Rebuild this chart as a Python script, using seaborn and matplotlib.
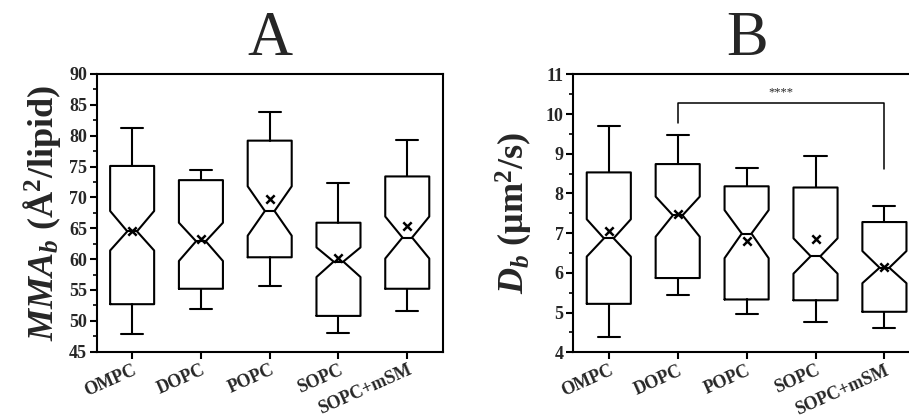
import numpy as np
import matplotlib
matplotlib.use("Agg")
import matplotlib.pyplot as plt
import matplotlib.transforms as mtransforms
import seaborn as sns

# lipid systems
cats = ['OMPC', 'DOPC', 'POPC', 'SOPC', 'SOPC+mSM']

# panel A: MMA_b box statistics
mma_whislo = [47.9, 52.0, 55.7, 48.0, 51.6]
mma_q1 = [52.7, 55.2, 60.3, 50.8, 55.2]
mma_cilo = [61.4, 59.7, 63.8, 57.1, 60.1]
mma_med = [64.5, 62.9, 67.8, 59.6, 63.5]
mma_cihi = [67.8, 65.9, 71.8, 61.9, 66.9]
mma_q3 = [75.1, 72.8, 79.2, 65.9, 73.4]
mma_whishi = [81.2, 74.4, 83.9, 72.4, 79.3]
mma_mean = [64.5, 63.3, 69.8, 60.2, 65.4]

# panel B: D_b box statistics
db_whislo = [4.39, 5.44, 4.96, 4.76, 4.60]
db_q1 = [5.22, 5.87, 5.33, 5.31, 5.02]
db_cilo = [6.41, 6.91, 6.37, 5.98, 5.74]
db_med = [6.87, 7.45, 6.99, 6.42, 6.13]
db_cihi = [7.35, 7.92, 7.58, 6.87, 6.55]
db_q3 = [8.53, 8.74, 8.18, 8.15, 7.28]
db_whishi = [9.71, 9.46, 8.63, 8.94, 7.69]
db_mean = [7.06, 7.47, 6.79, 6.85, 6.14]

# significance DOPC vs SOPC+mSM
sig_pair = [1, 4]
sig_text = '****'

sns.set_style('ticks')
plt.rcParams['font.family'] = ['Liberation Serif', 'DejaVu Serif']
plt.rcParams['font.weight'] = 'bold'
plt.rcParams['mathtext.fontset'] = 'custom'
plt.rcParams['mathtext.rm'] = 'Liberation Serif:bold'
plt.rcParams['mathtext.bf'] = 'Liberation Serif:bold'
plt.rcParams['mathtext.it'] = 'Liberation Serif:italic:bold'

LW = 1.5
BOXW = 0.64
WAIST = 0.22


def draw_panel(ax, whislo, q1, cilo, med, cihi, q3, whishi, mean):
    stats = []
    for i in range(len(cats)):
        stats.append(dict(whislo=whislo[i], q1=q1[i], cilo=cilo[i], med=med[i],
                          cihi=cihi[i], q3=q3[i], whishi=whishi[i], fliers=[]))
    pos = np.arange(len(cats))
    art = ax.bxp(stats, positions=pos, widths=BOXW, shownotches=True,
                 showfliers=False, manage_ticks=False,
                 boxprops=dict(color='black', linewidth=LW),
                 whiskerprops=dict(color='black', linewidth=LW),
                 capprops=dict(color='black', linewidth=LW),
                 medianprops=dict(color='black', linewidth=LW))
    # narrower notch waist like the original software
    for p, box, mline in zip(pos, art['boxes'], art['medians']):
        xd = np.array(box.get_xdata(), dtype=float)
        xd[3] = p + WAIST * BOXW / 2
        xd[8] = p - WAIST * BOXW / 2
        box.set_xdata(xd)
        mline.set_xdata([p - WAIST * BOXW / 2, p + WAIST * BOXW / 2])
    sns.scatterplot(x=pos, y=mean, marker='x', color='black', s=36,
                    linewidth=1.8, ax=ax, zorder=4, legend=False)
    ax.set_xlim(-0.515, 4.515)
    ax.set_xticks(pos)
    ax.set_xticklabels(cats, rotation=24, ha='right', va='top',
                       rotation_mode='anchor', fontsize=12.5, fontweight='bold')
    off = mtransforms.ScaledTranslation(9 / 100, 3 / 100,
                                        ax.figure.dpi_scale_trans)
    for lbl in ax.get_xticklabels():
        lbl.set_transform(lbl.get_transform() + off)
    for s in ax.spines.values():
        s.set_linewidth(LW)
        s.set_color('black')
    ax.tick_params(axis='both', which='major', direction='out', length=5,
                   width=LW, color='black', labelsize=13, pad=2)
    ax.tick_params(axis='y', which='minor', direction='out', length=3,
                   width=1.2, color='black')
    ax.tick_params(axis='x', which='minor', bottom=False)
    for lbl in ax.get_yticklabels():
        lbl.set_fontweight('bold')
    ax.grid(False)


fig = plt.figure(figsize=(9.09, 4.18), dpi=100)
axA = fig.add_axes([0.1064, 0.1586, 0.3806, 0.6644])
axB = fig.add_axes([0.6307, 0.1572, 0.3813, 0.6650])

draw_panel(axA, mma_whislo, mma_q1, mma_cilo, mma_med, mma_cihi, mma_q3,
           mma_whishi, mma_mean)
axA.set_ylim(45, 90)
axA.set_yticks(np.arange(45, 91, 5))
axA.set_yticks(np.arange(47.5, 90, 5), minor=True)
axA.set_ylabel(r'$MMA_b$ (Å$^2$/lipid)', fontsize=26, fontweight='bold',
               labelpad=4)
axA.set_title('A', fontsize=45, fontweight='normal', pad=14)

draw_panel(axB, db_whislo, db_q1, db_cilo, db_med, db_cihi, db_q3,
           db_whishi, db_mean)
axB.set_ylim(4, 11)
axB.set_yticks(np.arange(4, 12, 1))
axB.set_yticks(np.arange(4.5, 11, 1), minor=True)
axB.set_ylabel(r'$D_b$ (μm$^2$/s)', fontsize=26, fontweight='bold',
               labelpad=8)
axB.set_title('B', fontsize=45, fontweight='normal', pad=14)

# significance bracket
a, b = sig_pair
axB.plot([a, a, b, b], [9.78, 10.29, 10.29, 8.61], color='black',
         linewidth=1.1)
axB.text((a + b) / 2, 10.40, sig_text, ha='center', va='bottom', fontsize=9,
         fontweight='normal')

fig.savefig('out.png', dpi=100)
